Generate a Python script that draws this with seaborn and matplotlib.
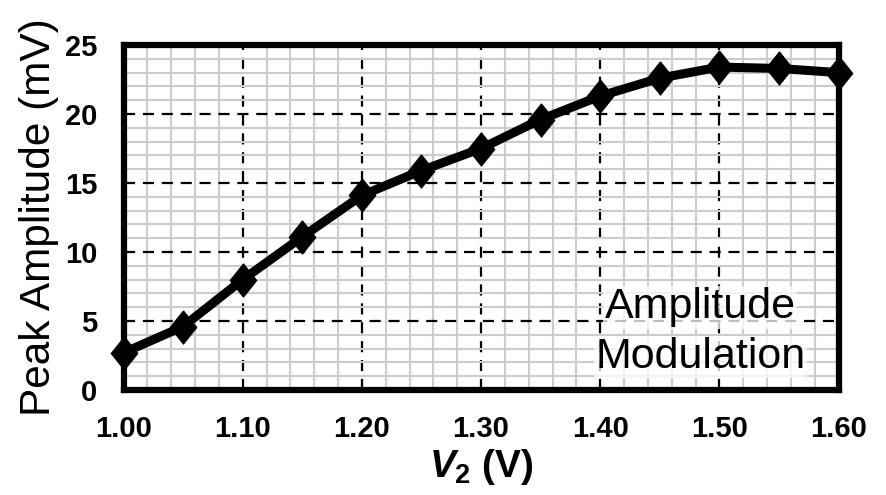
import matplotlib
matplotlib.use("Agg")
import matplotlib.pyplot as plt
import seaborn as sns
import pandas as pd
import numpy as np
from matplotlib.ticker import MultipleLocator, FormatStrFormatter

v2 = [1.00, 1.05, 1.10, 1.15, 1.20, 1.25, 1.30, 1.35, 1.40, 1.45, 1.50, 1.55, 1.60]
amp = [2.7, 4.6, 8.0, 11.1, 14.1, 15.9, 17.5, 19.6, 21.3, 22.6, 23.4, 23.3, 23.0]
x_ticks = [1.00, 1.10, 1.20, 1.30, 1.40, 1.50, 1.60]
y_ticks = [0, 5, 10, 15, 20, 25]

sns.set_theme(style="white")
plt.rcParams['font.family'] = ['Liberation Sans', 'DejaVu Sans']
plt.rcParams['mathtext.fontset'] = 'custom'
plt.rcParams['mathtext.it'] = 'Liberation Sans:italic:bold'
plt.rcParams['mathtext.rm'] = 'Liberation Sans:bold'
plt.rcParams['mathtext.bf'] = 'Liberation Sans:bold'
for k in ['text.color', 'axes.labelcolor', 'xtick.color', 'ytick.color']:
    plt.rcParams[k] = 'black'

df = pd.DataFrame({"V2": v2, "Amp": amp})

fig = plt.figure(figsize=(8.86, 4.95), dpi=100)
ax = fig.add_axes([0.1394, 0.2121, 0.807, 0.697])

ax.set_xlim(1.0, 1.6)
ax.set_ylim(0, 25)
ax.set_xticks(x_ticks)
ax.set_yticks(y_ticks)
ax.xaxis.set_minor_locator(MultipleLocator(0.02))
ax.yaxis.set_minor_locator(MultipleLocator(1))
ax.xaxis.set_major_formatter(FormatStrFormatter('%.2f'))
ax.grid(which='minor', color='#cccccc', linewidth=1.5, linestyle='-')
ax.grid(which='major', color='black', linewidth=1.6, linestyle=(0, (5, 3.5)))
ax.set_axisbelow(True)

diamond = [(0, 1), (0.8, 0), (0, -1), (-0.8, 0), (0, 1)]
sns.lineplot(data=df, x="V2", y="Amp", ax=ax, color='black', linewidth=6.5,
             marker=diamond, markersize=24, markeredgecolor='black', clip_on=False, zorder=5)

for s in ax.spines.values():
    s.set_visible(True)
    s.set_color('black')
    s.set_linewidth(4.5)

ax.tick_params(which='both', length=0, labelsize=21)
ax.tick_params(axis='x', pad=18)
ax.tick_params(axis='y', pad=19)
for lab in ax.get_xticklabels() + ax.get_yticklabels():
    lab.set_fontweight('bold')

ax.set_ylabel("Peak Amplitude (mV)", fontsize=30.5, labelpad=4)
ax.set_xlabel("$V_2$ (V)", fontsize=28, fontweight='bold', labelpad=3)

box = dict(facecolor='white', alpha=0.75, edgecolor='none', pad=1)
ax.text(1.484, 5.2, "Amplitude", fontsize=31, ha='center', va='baseline', zorder=6, bbox=box)
ax.text(1.484, 1.6, "Modulation", fontsize=31, ha='center', va='baseline', zorder=6, bbox=box)

fig.savefig("out.png", dpi=100)
